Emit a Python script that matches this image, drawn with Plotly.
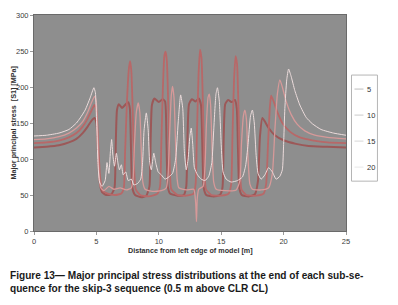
import plotly.graph_objects as go

# ---------------- data ----------------
series_names = ["5", "10", "15", "20"]

x_s5 = [0, 1, 2, 2.8, 3.4, 3.9, 4.3, 4.6, 4.85, 5.0, 5.12, 5.25, 5.45, 5.8, 6.2, 6.45, 6.55, 6.65, 6.8, 7.05, 7.35, 7.55, 7.68, 7.78, 7.88, 8.1, 8.6, 9.0, 9.25, 9.35, 9.45, 9.65, 10.0, 10.3, 10.5, 10.62, 10.72, 10.9, 11.5, 12.0, 12.2, 12.3, 12.42, 12.65, 12.95, 13.2, 13.38, 13.5, 13.6, 13.8, 14.4, 14.9, 15.1, 15.2, 15.32, 15.55, 15.85, 16.1, 16.25, 16.35, 16.45, 16.65, 17.2, 17.7, 17.95, 18.1, 18.3, 18.5, 18.8, 19.3, 20, 21, 22, 23.5, 25]
y_s5 = [116, 117, 119, 123, 128, 136, 145, 153, 157, 150, 110, 70, 54, 50, 51, 60, 120, 168, 176, 171, 176, 179, 170, 110, 60, 50, 47, 49, 62, 130, 175, 184, 179, 183, 180, 120, 62, 52, 49, 50, 62, 130, 176, 183, 180, 184, 175, 110, 60, 50, 48, 50, 60, 130, 176, 182, 179, 182, 170, 110, 60, 50, 48, 51, 70, 130, 157, 152, 143, 133, 126, 121, 118, 117, 116]

x_s10 = [0, 1, 2, 2.8, 3.4, 3.9, 4.3, 4.6, 4.85, 5.0, 5.15, 5.3, 5.5, 5.9, 6.5, 7.0, 7.2, 7.3, 7.45, 7.6, 7.7, 7.8, 7.92, 8.02, 8.15, 8.5, 9.2, 9.9, 10.1, 10.2, 10.33, 10.45, 10.55, 10.65, 10.78, 10.88, 11.0, 11.5, 12.2, 12.8, 12.95, 13.05, 13.18, 13.3, 13.42, 13.55, 13.65, 13.78, 14.2, 15.0, 15.6, 15.8, 15.9, 16.03, 16.15, 16.27, 16.4, 16.5, 16.62, 17.0, 17.8, 18.4, 18.6, 18.75, 18.9, 19.0, 19.2, 19.5, 19.9, 20.5, 21.3, 22.3, 23.5, 25]
y_s10 = [122, 123, 125.5, 130, 136, 145, 156, 167, 175, 168, 120, 75, 56, 52, 50, 52, 60, 110, 180, 225, 236, 222, 160, 90, 58, 50, 48, 52, 62, 120, 200, 244, 249, 235, 160, 90, 58, 50, 49, 52, 65, 130, 215, 252, 240, 165, 90, 58, 50, 49, 52, 65, 130, 210, 243, 232, 160, 90, 58, 50, 49, 52, 65, 120, 172, 188, 180, 165, 150, 138, 130, 126, 123, 122]

x_s15 = [0, 1, 2, 2.8, 3.4, 3.9, 4.3, 4.6, 4.85, 4.98, 5.1, 5.2, 5.35, 5.6, 6.0, 6.4, 6.9, 7.4, 7.8, 7.95, 8.05, 8.2, 8.35, 8.48, 8.6, 8.72, 8.9, 9.5, 10.2, 10.6, 10.75, 10.88, 11.0, 11.1, 11.22, 11.35, 11.47, 11.6, 12.2, 12.8, 12.95, 13.02, 13.08, 13.2, 13.55, 13.7, 13.82, 13.95, 14.05, 14.15, 14.28, 14.4, 14.6, 15.3, 16.2, 16.5, 16.62, 16.78, 16.9, 17.02, 17.15, 17.3, 17.5, 18.2, 18.8, 19.1, 19.3, 19.5, 19.7, 19.9, 20.2, 20.6, 21.1, 21.7, 22.5, 23.5, 25]
y_s15 = [127, 128, 131, 136, 143, 152, 165, 178, 187, 180, 130, 80, 60, 56, 62, 58, 60, 57, 60, 75, 120, 165, 178, 165, 110, 68, 58, 55, 56, 60, 80, 140, 188, 201, 185, 120, 72, 60, 57, 58, 40, 13, 45, 58, 62, 90, 150, 186, 190, 175, 110, 68, 58, 56, 57, 70, 120, 160, 168, 155, 100, 65, 58, 57, 60, 80, 140, 190, 210, 200, 180, 162, 148, 139, 133, 130, 128]

x_s20 = [0, 1, 2, 2.8, 3.4, 3.7, 4.1, 4.5, 4.8, 4.92, 5.02, 5.12, 5.25, 5.45, 5.7, 5.85, 6.0, 6.12, 6.22, 6.32, 6.45, 6.6, 6.72, 6.85, 7.0, 7.15, 7.35, 7.55, 7.8, 8.0, 8.3, 8.55, 8.7, 8.82, 9.0, 9.15, 9.27, 9.4, 9.6, 9.75, 9.95, 10.2, 10.5, 10.8, 11.1, 11.35, 11.55, 11.75, 11.92, 12.05, 12.2, 12.35, 12.48, 12.6, 12.72, 12.85, 13.1, 13.4, 13.7, 14.0, 14.25, 14.4, 14.58, 14.7, 14.85, 15.0, 15.15, 15.4, 15.8, 16.3, 16.7, 16.95, 17.15, 17.35, 17.5, 17.65, 17.8, 17.95, 18.2, 18.5, 18.8, 19.1, 19.4, 19.7, 19.9, 20.0, 20.1, 20.25, 20.4, 20.6, 20.9, 21.3, 21.8, 22.3, 23, 24, 25]
y_s20 = [132, 133, 136, 141, 150, 157, 168, 185, 199, 192, 150, 95, 68, 62, 70, 95, 80, 110, 127, 105, 90, 108, 95, 85, 92, 78, 82, 70, 72, 64, 66, 72, 95, 140, 164, 140, 95, 85, 108, 95, 82, 78, 72, 75, 80, 100, 150, 189, 170, 110, 85, 100, 130, 143, 120, 88, 78, 72, 70, 76, 95, 140, 190, 199, 180, 120, 82, 72, 68, 70, 75, 90, 120, 160, 168, 150, 105, 80, 72, 78, 88, 82, 72, 76, 85, 120, 170, 210, 225, 215, 195, 175, 158, 149, 141, 136, 133]

x_ticks = [0, 5, 10, 15, 20, 25]
y_ticks = [0, 50, 100, 150, 200, 250, 300]

x_title = "Distance from left edge of model [m]"
y_title = "Major principal stress  [S1] [MPa]"
caption_1 = "Figure 13\u2014 Major principal stress distributions at the end of each sub-se-"
caption_2 = "quence for the skip-3 sequence (0.5 m above CLR CL)"

# ---------------- styling ----------------
line_colors = ["#9c5858", "#b86868", "#d69999", "#ecdcdc"]
line_widths = [2.0, 1.8, 1.3, 1.0]
legend_colors = ["#c8c8c8", "#d3d3d3", "#dedede", "#ececec"]

# page body has an 8px margin: size the figure so it fits the 398x305 window
OFF = 8
W, H = 398 - OFF, 305 - OFF
ML, MR, MT, MB = 34 - OFF, 51.5, 15 - OFF, 74.2
PW, PH = W - ML - MR, H - MT - MB


def px(xw):
    """window x pixel -> paper x"""
    return (xw - OFF - ML) / PW


def py(yw):
    """window y pixel -> paper y"""
    return (H - MB - (yw - OFF)) / PH


fig = go.Figure()
xs = [x_s5, x_s10, x_s15, x_s20]
ys = [y_s5, y_s10, y_s15, y_s20]
for i in range(4):
    fig.add_trace(go.Scatter(
        x=xs[i], y=ys[i], mode="lines", name=series_names[i],
        line=dict(color=line_colors[i], width=line_widths[i], shape="spline", smoothing=0.5),
        showlegend=False, hoverinfo="skip"))

axis_font = dict(family="Liberation Sans, Arial, sans-serif", size=7.5, color="#404040")
fig.update_layout(
    width=W, height=H,
    margin=dict(l=ML, r=MR, t=MT, b=MB, autoexpand=False),
    paper_bgcolor="white", plot_bgcolor="#8e8e8e",
    showlegend=False,
    xaxis=dict(range=[0, 25], tickvals=x_ticks, ticktext=[str(v) for v in x_ticks],
               showgrid=False, zeroline=False, showline=True, linecolor="#6a6a6a", linewidth=1,
               mirror=True, ticks="outside", ticklen=3, tickcolor="#9a9a9a",
               tickfont=axis_font, fixedrange=True),
    yaxis=dict(range=[0, 300], tickvals=y_ticks, ticktext=[str(v) for v in y_ticks],
               showgrid=False, zeroline=False, showline=True, linecolor="#6a6a6a", linewidth=1,
               mirror=True, ticks="outside", ticklen=3, tickcolor="#9a9a9a",
               tickfont=axis_font, fixedrange=True),
)

title_font = dict(family="Liberation Sans, Arial, sans-serif", size=7.2, color="#303030")
fig.add_annotation(x=0.5, y=py(250), xref="paper", yref="paper", text="<b>" + x_title + "</b>",
                   showarrow=False, font=title_font, xanchor="center", yanchor="middle")
fig.add_annotation(x=px(12.5), y=0.5, xref="paper", yref="paper", text="<b>" + y_title + "</b>",
                   showarrow=False, font=title_font, textangle=-90, xanchor="center", yanchor="middle",
                   borderpad=0)

cap_font = dict(family="Liberation Sans, Arial, sans-serif", size=10.1, color="#1a1a1a")
fig.add_annotation(x=px(8.5), y=py(275), xref="paper", yref="paper", text="<b>" + caption_1 + "</b>",
                   showarrow=False, font=cap_font, xanchor="left", yanchor="middle", borderpad=0)
fig.add_annotation(x=px(8.5), y=py(288.5), xref="paper", yref="paper", text="<b>" + caption_2 + "</b>",
                   showarrow=False, font=cap_font, xanchor="left", yanchor="middle", borderpad=0)

# manual legend box
fig.add_shape(type="rect", xref="paper", yref="paper", x0=px(352), x1=px(378), y0=py(75), y1=py(181),
              line=dict(color="#b5b5b5", width=1), fillcolor="white", layer="above")
leg_y = [89, 115, 141, 167]
leg_font = dict(family="Liberation Sans, Arial, sans-serif", size=7.5, color="#333333")
for i in range(4):
    fig.add_shape(type="line", xref="paper", yref="paper", x0=px(355), x1=px(364),
                  y0=py(leg_y[i]), y1=py(leg_y[i]), line=dict(color=legend_colors[i], width=1.2))
    fig.add_annotation(x=px(366), y=py(leg_y[i]), xref="paper", yref="paper", text=series_names[i],
                       showarrow=False, font=leg_font, xanchor="left", yanchor="middle")

fig.write_html("out.html")
